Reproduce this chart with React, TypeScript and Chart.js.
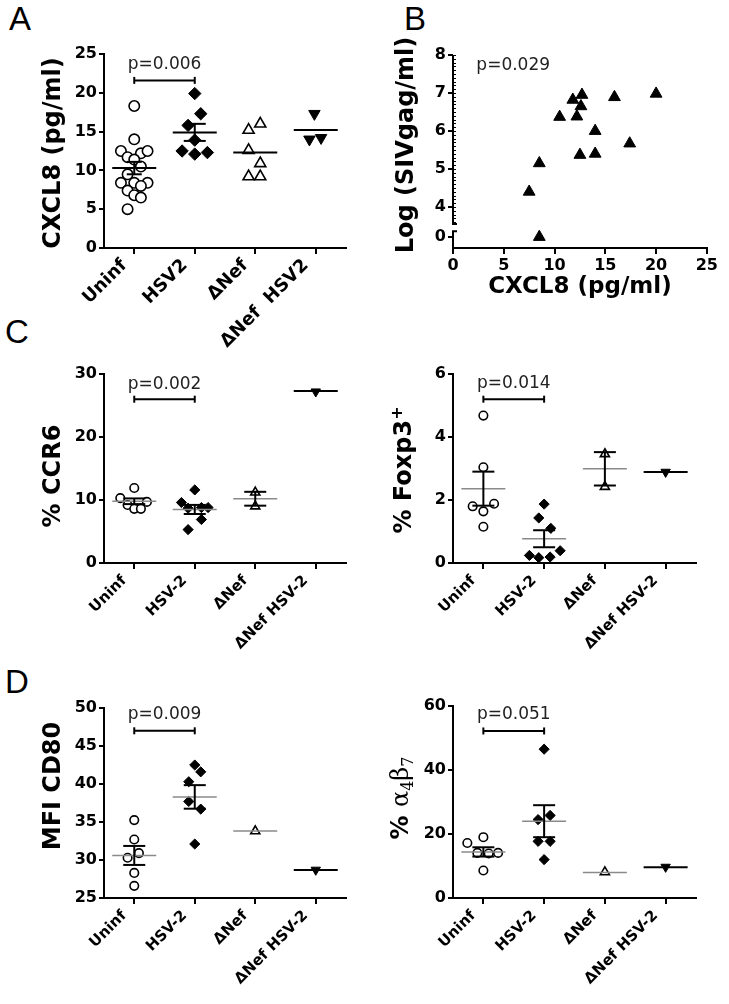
import React, { useEffect, useRef } from 'react';
import { Chart, registerables } from 'chart.js';

Chart.register(...registerables);

const FONT = '"DejaVu Sans", Verdana, sans-serif';
const SLOT = 0.11; // horizontal spread unit of dot columns (category units)

// ---------- Panel A : CXCL8 ----------
const catsA = ['Uninf', 'HSV2', '\u0394Nef', '\u0394Nef  HSV2'];
const aUninf = [18.3, 14.0, 12.5, 12.2, 12.5, 11.7, 11.4, 10.5, 9.5, 8.4, 8.4, 8.4, 8.0, 7.4, 6.8, 6.5, 5.0];
const aUninfSlots = [0, 0, -2, 1, 2, -1, 0, 1, -1, -2, 0, 2, 1, -1, 0, 1, -1];
const aHSV2 = [19.9, 17.3, 15.8, 13.9, 12.5, 12.3, 12.1];
const aHSV2Slots = [0, 0.9, -1, 0, -1.9, 1.9, 0];
const aDNef = [16.0, 15.2, 12.6, 10.9, 9.2, 9.2];
const aDNefSlots = [0.75, -1, -1, 0.75, -1, 0.75];
const aDNefHSV2 = [17.3, 14.2, 14.0];
const aDNefHSV2Slots = [-0.2, 0.8, -0.95];
const aMeans = [10.3, 14.9, 12.3, 15.2];
const aSems = [0.8, 1.1, null, null];
const aP = { text: 'p=0.006', bracket: 21.6, textY: 23.7 };

// ---------- Panel B : correlation ----------
const bX = [7.5, 8.5, 8.5, 10.5, 11.8, 12.7, 12.6, 12.2, 12.5, 14.0, 14.0, 15.9, 17.4, 20.0];
const bY = [4.4, 5.15, 0, 6.37, 6.82, 6.95, 6.65, 6.38, 5.37, 6.0, 5.4, 6.89, 5.67, 6.98];
const bYTicks = [0, 4, 5, 6, 7, 8];
const bP = { text: 'p=0.029', x: 2.3, y: 7.71 };
const B_ZERO_POS = 3.21; // where the broken axis shows "0"
const B_BREAK_HI = 3.55;
const B_BREAK_LO = 3.36;

// ---------- Panel C : CCR6 ----------
const catsCD = ['Uninf', 'HSV-2', '\u0394Nef', '\u0394Nef HSV-2'];
const c1Uninf = [11.9, 10.3, 9.7, 9.2, 8.6, 8.6];
const c1UninfSlots = [0, -2.1, 1.9, -1, 0, 1];
const c1HSV = [11.6, 9.6, 8.7, 8.8, 8.8, 6.9, 5.3];
const c1HSVSlots = [0, -2, -1, 1, 2, 1, -1];
const c1DNef = [11.2, 9.0];
const c1DNefHSV = [27.2];
const c1Means = [9.8, 8.5, 10.2, 27.3];
const c1Sems = [0.45, 0.72, 1.1, null];
const c1P = { text: 'p=0.002', bracket: 26.0, textY: 28.4 };

// ---------- Panel C : Foxp3 ----------
const c2Uninf = [4.68, 3.04, 1.88, 1.80, 1.64, 1.15];
const c2UninfSlots = [0, 0, 1.6, -1.6, 0, 0];
const c2HSV = [1.87, 1.43, 1.10, 0.39, 0.24, 0.19, 0.17];
const c2HSVSlots = [0, -0.8, 1, 2.4, -2.2, 0.9, -0.8];
const c2DNef = [3.46, 2.42];
const c2DNefHSV = [2.89];
const c2Means = [2.36, 0.77, 2.99, 2.89];
const c2Sems = [0.54, 0.27, 0.53, null];
const c2P = { text: 'p=0.014', bracket: 5.2, textY: 5.69 };

// ---------- Panel D : CD80 ----------
const d1Uninf = [35.25, 32.7, 30.9, 30.3, 28.3, 26.6];
const d1UninfSlots = [0, 0, 0.7, -1, 0, 0];
const d1HSV = [42.5, 41.6, 40.3, 37.7, 36.7, 32.1];
const d1HSVSlots = [0, 0.9, -0.9, -0.9, 0.9, 0];
const d1DNef = [33.8];
const d1DNefHSV = [28.7];
const d1Means = [30.6, 38.3, 33.8, 28.7];
const d1Sems = [1.25, 1.55, null, null];
const d1P = { text: 'p=0.009', bracket: 47.0, textY: 49.1 };

// ---------- Panel D : a4b7 ----------
const d2Uninf = [19.0, 17.2, 14.1, 13.9, 14.1, 8.6];
const d2UninfSlots = [0, -2.4, -0.9, 0.8, 2.2, 0];
const d2HSV = [46.5, 25.8, 24.5, 17.7, 17.7, 12.0];
const d2HSVSlots = [0, 0.9, -0.9, -0.9, 0.9, 0];
const d2DNef = [8.1];
const d2DNefHSV = [9.7];
const d2Means = [14.4, 24.0, 8.0, 9.6];
const d2Sems = [1.45, 5.0, null, null];
const d2P = { text: 'p=0.051', bracket: 52.2, textY: 57.2 };

type Marker = 'openCircle' | 'diamond' | 'openTri' | 'downTri';
type Group = { values: number[]; slots: number[]; marker: Marker };

function markerProps(kind: Marker, big: boolean) {
  const k = big ? 1 : 0.82;
  switch (kind) {
    case 'openCircle':
      return { pointStyle: 'circle', pointRadius: 5.2 * k, pointBackgroundColor: '#fff', pointBorderColor: '#000', pointBorderWidth: 1.6 };
    case 'diamond':
      return { pointStyle: 'rectRot', pointRadius: 6.2 * k, pointBackgroundColor: '#000', pointBorderColor: '#000', pointBorderWidth: 1 };
    case 'openTri':
      return { pointStyle: 'triangle', pointRadius: 6.4 * k, pointBackgroundColor: '#fff', pointBorderColor: '#000', pointBorderWidth: 1.6 };
    case 'downTri':
    default:
      return { pointStyle: 'triangle', pointRotation: 180, pointRadius: 6.6 * k, pointBackgroundColor: '#000', pointBorderColor: '#000', pointBorderWidth: 1 };
  }
}

const pTextPlugin = {
  id: 'ptext',
  afterDatasetsDraw(chart: any, _args: any, opts: any) {
    if (!opts || !opts.text) return;
    const { ctx, scales } = chart;
    ctx.save();
    ctx.font = `17px ${FONT}`;
    ctx.fillStyle = '#222';
    ctx.textAlign = opts.align || 'center';
    ctx.textBaseline = 'middle';
    ctx.fillText(opts.text, scales.x.getPixelForValue(opts.x), scales.y.getPixelForValue(opts.y));
    ctx.restore();
  },
};

type PlotSpec = {
  left: number; top: number; width: number; height: number;
  yW: number; padTop: number; padRight: number; xH: number;
  cats: string[]; groups: Group[];
  means: (number | null)[]; sems: (number | null)[]; meanColors: string[]; capR: number[];
  yMin: number; yMax: number; yStep: number;
  p: { text: string; bracket: number; textY: number };
  labelSize: number; labelPad: number; big: boolean;
};

function axisGrid(len: number) {
  return { display: true, drawOnChartArea: false, drawTicks: true, tickLength: len, color: '#000', lineWidth: 2 };
}

function DotPlot({ spec }: { spec: PlotSpec }) {
  const ref = useRef<HTMLCanvasElement>(null);
  useEffect(() => {
    const s = spec;
    const datasets: any[] = [];
    datasets.push({
      data: [{ x: 0, y: s.p.bracket }, { x: 1, y: s.p.bracket }],
      showLine: true, borderColor: '#000', borderWidth: 2,
      pointStyle: 'line', pointRotation: 90, pointRadius: 3.5, pointBorderColor: '#000', pointBorderWidth: 2, clip: false,
    });
    s.means.forEach((m, g) => {
      if (m == null) return;
      const sem = s.sems[g];
      if (sem != null) {
        datasets.push({
          data: [{ x: g, y: m - sem }, { x: g, y: m + sem }],
          showLine: true, borderColor: '#000', borderWidth: 2,
          pointStyle: 'line', pointRadius: s.capR[g], pointBorderColor: '#000', pointBorderWidth: 2, clip: false,
        });
      }
      const black = s.meanColors[g] === '#000';
      datasets.push({
        data: [{ x: g, y: m }], pointStyle: 'line', pointRadius: 22,
        borderColor: s.meanColors[g], pointBorderColor: s.meanColors[g], pointBorderWidth: black ? 2 : 1.5, clip: false,
      });
    });
    s.groups.forEach((gr, g) => {
      datasets.push({
        data: gr.values.map((v, i) => ({ x: g + gr.slots[i] * SLOT, y: v })),
        ...markerProps(gr.marker, s.big), showLine: false, clip: false,
      });
    });
    const chart = new Chart(ref.current as HTMLCanvasElement, {
      type: 'scatter',
      data: { datasets },
      options: {
        animation: false, responsive: false, events: [],
        layout: { padding: { top: s.padTop, right: s.padRight, left: 0, bottom: 0 } },
        plugins: {
          legend: { display: false }, tooltip: { enabled: false },
          ptext: { text: s.p.text, x: 0.5, y: s.p.textY, align: 'center' },
        } as any,
        scales: {
          x: {
            type: 'linear', min: -0.5, max: 3.5,
            afterBuildTicks: (sc: any) => { sc.ticks = s.cats.map((_, i) => ({ value: i })); },
            afterFit: (sc: any) => { sc.height = s.xH; },
            ticks: {
              autoSkip: false, maxRotation: 45, minRotation: 45, color: '#000', padding: s.labelPad, labelOffset: -10,
              font: { family: FONT, size: s.labelSize, weight: 'bold' },
              callback: (v: any) => s.cats[v] ?? '',
            },
            grid: axisGrid(6) as any,
            border: { display: true, color: '#000', width: 2 },
          },
          y: {
            type: 'linear', min: s.yMin, max: s.yMax,
            afterFit: (sc: any) => { sc.width = s.yW; },
            ticks: { stepSize: s.yStep, color: '#000', padding: 2, font: { family: FONT, size: 16, weight: 'bold' } },
            grid: axisGrid(5) as any,
            border: { display: true, color: '#000', width: 2 },
          },
        },
      },
      plugins: [pTextPlugin],
    } as any);
    return () => chart.destroy();
  }, []);
  return (
    <canvas ref={ref} width={spec.width} height={spec.height}
      style={{ position: 'absolute', left: spec.left, top: spec.top, width: spec.width, height: spec.height }} />
  );
}

const bAxisPlugin = {
  id: 'baxis',
  afterDraw(chart: any) {
    const { ctx, chartArea: a, scales } = chart;
    const y = scales.y;
    const x0 = a.left;
    const hi = y.getPixelForValue(B_BREAK_HI);
    const lo = y.getPixelForValue(B_BREAK_LO);
    ctx.save();
    ctx.strokeStyle = '#000';
    ctx.lineWidth = 2;
    ctx.beginPath();
    ctx.moveTo(x0, a.top); ctx.lineTo(x0, hi);
    ctx.moveTo(x0, lo); ctx.lineTo(x0, a.bottom);
    ctx.moveTo(x0 - 1, hi); ctx.lineTo(x0 + 4, hi);
    ctx.moveTo(x0 - 1, lo); ctx.lineTo(x0 + 4, lo);
    ctx.stroke();
    ctx.lineWidth = 1;
    ctx.beginPath();
    for (let v = 36; v <= 80; v++) {
      const py = Math.round(y.getPixelForValue(v / 10)) + 0.5;
      ctx.moveTo(x0, py); ctx.lineTo(x0 + 3, py);
    }
    ctx.stroke();
    ctx.restore();
  },
};

function ScatterB() {
  const ref = useRef<HTMLCanvasElement>(null);
  useEffect(() => {
    const chart = new Chart(ref.current as HTMLCanvasElement, {
      type: 'scatter',
      data: {
        datasets: [{
          data: bX.map((x, i) => ({ x, y: bY[i] === 0 ? B_ZERO_POS : bY[i] })),
          pointStyle: 'triangle', pointRadius: 6.8, pointBackgroundColor: '#000', pointBorderColor: '#000', pointBorderWidth: 1, clip: false,
        }],
      },
      options: {
        animation: false, responsive: false, events: [],
        layout: { padding: { top: 25, right: 12, left: 0, bottom: 0 } },
        plugins: {
          legend: { display: false }, tooltip: { enabled: false },
          ptext: { text: bP.text, x: bP.x, y: bP.y, align: 'left' },
        } as any,
        scales: {
          x: {
            type: 'linear', min: 0, max: 25,
            afterFit: (sc: any) => { sc.height = 53; },
            ticks: { stepSize: 5, color: '#000', padding: 2, maxRotation: 0, font: { family: FONT, size: 16, weight: 'bold' } },
            grid: axisGrid(6) as any,
            border: { display: true, color: '#000', width: 2 },
            title: { display: true, text: 'CXCL8 (pg/ml)', color: '#000', padding: 0, font: { family: FONT, size: 23, weight: 'bold' } },
          },
          y: {
            type: 'linear', min: 2.92, max: 8,
            afterFit: (sc: any) => { sc.width = 63; },
            afterBuildTicks: (sc: any) => { sc.ticks = bYTicks.map((v) => ({ value: v === 0 ? B_ZERO_POS : v })); },
            ticks: {
              color: '#000', padding: 2, font: { family: FONT, size: 16, weight: 'bold' },
              callback: (v: any) => (v === B_ZERO_POS ? '0' : String(v)),
            },
            grid: axisGrid(5) as any,
            border: { display: false },
          },
        },
      },
      plugins: [pTextPlugin, bAxisPlugin],
    } as any);
    return () => chart.destroy();
  }, []);
  return (
    <canvas ref={ref} width={330} height={271}
      style={{ position: 'absolute', left: 390, top: 30, width: 330, height: 271 }} />
  );
}

const BLACK4 = ['#000', '#000', '#000', '#000'];
const GREY3 = ['#8a8a8a', '#8a8a8a', '#8a8a8a', '#000'];

const specA: PlotSpec = {
  left: 0, top: 30, width: 370, height: 330, yW: 104, padTop: 24, padRight: 10, xH: 112,
  cats: catsA,
  groups: [
    { values: aUninf, slots: aUninfSlots, marker: 'openCircle' },
    { values: aHSV2, slots: aHSV2Slots, marker: 'diamond' },
    { values: aDNef, slots: aDNefSlots, marker: 'openTri' },
    { values: aDNefHSV2, slots: aDNefHSV2Slots, marker: 'downTri' },
  ],
  means: aMeans, sems: aSems, meanColors: BLACK4, capR: [7.5, 11, 11, 11],
  yMin: 0, yMax: 25, yStep: 5, p: aP, labelSize: 18, labelPad: 1, big: true,
};

const specC1: PlotSpec = {
  left: 0, top: 350, width: 370, height: 310, yW: 104, padTop: 20, padRight: 10, xH: 97,
  cats: catsCD,
  groups: [
    { values: c1Uninf, slots: c1UninfSlots, marker: 'openCircle' },
    { values: c1HSV, slots: c1HSVSlots, marker: 'diamond' },
    { values: c1DNef, slots: [0, 0], marker: 'openTri' },
    { values: c1DNefHSV, slots: [0], marker: 'downTri' },
  ],
  means: c1Means, sems: c1Sems, meanColors: GREY3, capR: [11, 11, 11, 11],
  yMin: 0, yMax: 30, yStep: 10, p: c1P, labelSize: 15, labelPad: 3, big: false,
};

const specC2: PlotSpec = {
  left: 390, top: 350, width: 330, height: 310, yW: 63, padTop: 20, padRight: 10, xH: 97,
  cats: catsCD,
  groups: [
    { values: c2Uninf, slots: c2UninfSlots, marker: 'openCircle' },
    { values: c2HSV, slots: c2HSVSlots, marker: 'diamond' },
    { values: c2DNef, slots: [0, 0], marker: 'openTri' },
    { values: c2DNefHSV, slots: [0], marker: 'downTri' },
  ],
  means: c2Means, sems: c2Sems, meanColors: GREY3, capR: [11, 11, 11, 11],
  yMin: 0, yMax: 6, yStep: 2, p: c2P, labelSize: 15, labelPad: 3, big: false,
};

const specD1: PlotSpec = {
  left: 0, top: 680, width: 370, height: 324, yW: 104, padTop: 28, padRight: 10, xH: 106,
  cats: catsCD,
  groups: [
    { values: d1Uninf, slots: d1UninfSlots, marker: 'openCircle' },
    { values: d1HSV, slots: d1HSVSlots, marker: 'diamond' },
    { values: d1DNef, slots: [0], marker: 'openTri' },
    { values: d1DNefHSV, slots: [0], marker: 'downTri' },
  ],
  means: d1Means, sems: d1Sems, meanColors: GREY3, capR: [11, 11, 11, 11],
  yMin: 25, yMax: 50, yStep: 5, p: d1P, labelSize: 15, labelPad: 3, big: false,
};

const specD2: PlotSpec = {
  left: 390, top: 680, width: 330, height: 324, yW: 63, padTop: 26, padRight: 10, xH: 106,
  cats: catsCD,
  groups: [
    { values: d2Uninf, slots: d2UninfSlots, marker: 'openCircle' },
    { values: d2HSV, slots: d2HSVSlots, marker: 'diamond' },
    { values: d2DNef, slots: [0], marker: 'openTri' },
    { values: d2DNefHSV, slots: [0], marker: 'downTri' },
  ],
  means: d2Means, sems: d2Sems, meanColors: GREY3, capR: [11, 11, 11, 11],
  yMin: 0, yMax: 60, yStep: 20, p: d2P, labelSize: 15, labelPad: 3, big: false,
};

function YTitle({ cx, cy, children }: { cx: number; cy: number; children: React.ReactNode }) {
  return (
    <div style={{
      position: 'absolute', left: cx, top: cy, transform: 'translate(-50%, -50%) rotate(-90deg)',
      font: `bold 24px ${FONT}`, whiteSpace: 'nowrap', lineHeight: 1, color: '#000',
    }}>{children}</div>
  );
}

function Letter({ x, y, children }: { x: number; y: number; children: React.ReactNode }) {
  return (
    <div style={{ position: 'absolute', left: x, top: y, font: '33px "Liberation Sans", Arial, sans-serif', lineHeight: 1, color: '#000' }}>{children}</div>
  );
}

export default function App() {
  return (
    <div style={{ position: 'absolute', left: 0, top: 0, width: 729, height: 1004, background: '#fff', overflow: 'hidden' }}>
      <Letter x={9} y={2}>A</Letter>
      <Letter x={404} y={2}>B</Letter>
      <Letter x={5} y={315}>C</Letter>
      <Letter x={5} y={665}>D</Letter>

      <DotPlot spec={specA} />
      <ScatterB />
      <DotPlot spec={specC1} />
      <DotPlot spec={specC2} />
      <DotPlot spec={specD1} />
      <DotPlot spec={specD2} />

      <YTitle cx={52} cy={153}>CXCL8 (pg/ml)</YTitle>
      <YTitle cx={405} cy={145}>Log (SIVgag/ml)</YTitle>
      <YTitle cx={52} cy={476}>% CCR6</YTitle>
      <YTitle cx={402} cy={470}>% Foxp3<sup style={{ fontSize: 16 }}>+</sup></YTitle>
      <YTitle cx={52} cy={786}>MFI CD80</YTitle>
      <YTitle cx={402} cy={798}>
        % <span style={{ fontWeight: 'normal', fontFamily: '"DejaVu Serif", serif' }}>{'\u03B1'}<sub style={{ fontSize: 16 }}>4</sub>{'\u03B2'}<sub style={{ fontSize: 16 }}>7</sub></span>
      </YTitle>
    </div>
  );
}
